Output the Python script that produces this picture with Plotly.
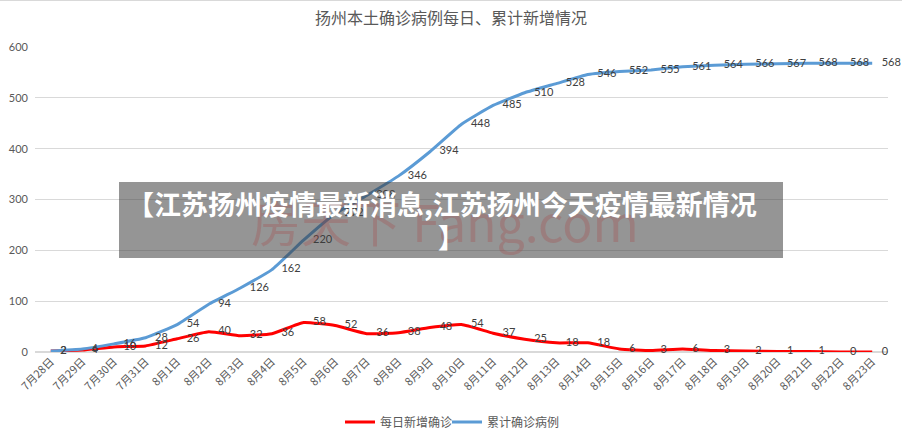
import plotly.graph_objects as go

dates = ["7月28日", "7月29日", "7月30日", "7月31日", "8月1日", "8月2日", "8月3日", "8月4日",
         "8月5日", "8月6日", "8月7日", "8月8日", "8月9日", "8月10日", "8月11日", "8月12日",
         "8月13日", "8月14日", "8月15日", "8月16日", "8月17日", "8月18日", "8月19日",
         "8月20日", "8月21日", "8月22日", "8月23日"]
daily_new = [2, 4, 10, 12, 26, 40, 32, 36, 58, 52, 36, 38, 48, 54, 37, 25, 18, 18, 6, 3, 6, 3,
             2, 1, 1, 0, 0]
cumulative = [2, 6, 16, 28, 54, 94, 126, 162, 220, 272, 308, 346, 394, 448, 485, 510, 528, 546,
              552, 555, 561, 564, 566, 567, 568, 568, 568]
y_ticks = [0, 100, 200, 300, 400, 500, 600]

title_text = "扬州本土确诊病例每日、累计新增情况"
banner_line1 = "【江苏扬州疫情最新消息,江苏扬州今天疫情最新情况"
banner_line2 = "】"
watermark_text = "房天下 Fang.com"

FONT = "Lato, 'Noto Sans CJK SC', sans-serif"
CJK = "'Noto Sans CJK SC', sans-serif"

W, H = 902, 442
L, R, T, B = 35, 14, 47, 90
pw, ph = W - L - R, H - T - B
LABEL_SHIFT = 0.3  # label offset to the right of each point, in category units


def px_x(x):
    return (x - L) / pw


def px_y(y):
    return (H - B - y) / ph


xs = list(range(len(dates)))
xs_lab = [x + LABEL_SHIFT for x in xs]

fig = go.Figure()
series = [("每日新增确诊", daily_new, "#FF0000", "legend"),
          ("累计确诊病例", cumulative, "#5B9BD5", "legend2")]
for name, vals, color, lg in series:
    fig.add_trace(go.Scatter(
        x=xs, y=vals, name=name, mode="lines", legend=lg,
        line=dict(color=color, width=3, shape="spline", smoothing=0.4),
    ))
for name, vals, color, lg in series:
    fig.add_trace(go.Scatter(
        x=xs_lab, y=vals, mode="text", showlegend=False, hoverinfo="skip",
        text=[str(v) for v in vals], textposition="middle right", cliponaxis=False,
        textfont=dict(family=FONT, size=11, color="#404040"),
    ))

legend_style = dict(orientation="h", xanchor="left", y=px_y(422), yanchor="middle",
                    font=dict(family=CJK, size=12, color="#595959"),
                    bgcolor="rgba(0,0,0,0)")

fig.update_layout(
    width=W, height=H,
    margin=dict(l=L, r=R, t=T, b=B, autoexpand=False),
    paper_bgcolor="white", plot_bgcolor="white",
    title=dict(text=title_text, x=0.5, xref="container", xanchor="center", y=1 - 18 / H,
               yanchor="middle", font=dict(family=CJK, size=16, color="#595959")),
    xaxis=dict(tickmode="array", tickvals=xs, ticktext=dates, tickangle=-45,
               showgrid=False, showline=False, zeroline=False,
               tickfont=dict(family=CJK, size=11, color="#595959"), ticks="",
               range=[-0.5, len(dates) - 0.5]),
    yaxis=dict(range=[0, 600], tickvals=y_ticks, showgrid=True, gridcolor="#D9D9D9",
               gridwidth=1, zeroline=True, zerolinecolor="#D9D9D9", showline=False,
               tickfont=dict(family=FONT, size=11, color="#595959"), ticks="",
               ticklabelstandoff=6),
    legend=dict(x=px_x(340), **legend_style),
    legend2=dict(x=px_x(447), **legend_style),
    showlegend=True,
)

# chart border line at top
fig.add_shape(type="line", xref="paper", yref="paper", x0=px_x(0), x1=px_x(W),
              y0=px_y(0.5), y1=px_y(0.5), line=dict(color="#D9D9D9", width=1), layer="above")

# banner overlay
fig.add_shape(type="rect", xref="paper", yref="paper", x0=px_x(119), x1=px_x(783),
              y0=px_y(258), y1=px_y(182), fillcolor="rgba(60,60,60,0.54)",
              line=dict(width=0), layer="above")
fig.add_annotation(text=watermark_text, xref="paper", yref="paper", x=px_x(445), y=px_y(220),
                   showarrow=False, font=dict(family=CJK, size=50, color="rgba(170,70,70,0.28)"))
fig.add_annotation(text=banner_line1, xref="paper", yref="paper", x=px_x(442), y=px_y(203),
                   showarrow=False, yanchor="middle",
                   font=dict(family=CJK, size=27, color="white", weight="bold"))
fig.add_annotation(text=banner_line2, xref="paper", yref="paper", x=px_x(451), y=px_y(236),
                   showarrow=False, yanchor="middle",
                   font=dict(family=CJK, size=27, color="white", weight="bold"))

fig.write_html("out.html")
